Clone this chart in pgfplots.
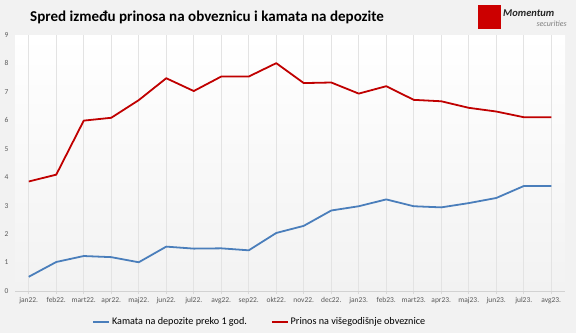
\documentclass[border=0pt]{standalone}
\usepackage{fontspec}
\setmainfont{Carlito}
\usepackage{pgfplots}
\pgfplotsset{compat=1.18}
\definecolor{bgc}{HTML}{F2F2F2}
\definecolor{blueline}{HTML}{4A7EBB}
\definecolor{redline}{HTML}{C00000}
\definecolor{ticktxt}{HTML}{595959}
\begin{document}
\begin{tikzpicture}
\fill[bgc] (0bp,0bp) rectangle (576bp,333bp);
\useasboundingbox (0bp,0bp) rectangle (576bp,333bp);
\begin{axis}[
  at={(15bp,42bp)}, anchor=south west, scale only axis,
  width=550bp, height=256bp,
  xmin=-0.5, xmax=19.5, ymin=0, ymax=9,
  ytick={0,1,...,9},
  xtick={0,...,19},
  xticklabels={jan22.,feb22.,mart22.,apr22.,maj22.,jun22.,jul22.,avg22.,sep22.,okt22.,nov22.,dec22.,jan23.,feb23.,mart23.,apr23.,maj23.,jun23.,jul23.,avg23.},
  tick label style={font=\fontsize{7.5}{8}\selectfont, text=ticktxt},
  /pgf/number format/assume math mode=true,
  axis background/.style={shade, top color=white, bottom color=bgc},
  axis x line*=bottom, axis y line*=left,
  x axis line style={draw=gray!35},
  y axis line style={draw=none},
  xmajorgrids, major grid style={draw=gray!22, line width=0.6pt},
  tick align=outside,
  major tick length=3bp,
  xtick style={draw=gray!30, line width=0.6pt},
  ytick style={draw=none},
  yticklabel style={xshift=0bp},
  xticklabel style={yshift=0bp},
  legend style={at={(0.445,-0.12)}, anchor=center, draw=none, fill=none,
    font=\fontsize{10.2}{12}\selectfont, legend columns=2,
    /tikz/every even column/.append style={column sep=22bp}},
  legend image code/.code={\draw[#1] (0bp,0bp) -- (16bp,0bp);},
  every axis plot/.append style={line width=1.8pt, line join=round},
]
\addplot[blueline] coordinates {
(0,0.50) (1,1.02) (2,1.23) (3,1.19) (4,1.01) (5,1.56) (6,1.49) (7,1.50) (8,1.43) (9,2.04)
(10,2.29) (11,2.83) (12,2.98) (13,3.22) (14,2.98) (15,2.94) (16,3.09) (17,3.27) (18,3.69) (19,3.69)};
\addlegendentry{Kamata na depozite preko 1 god.}
\addplot[redline] coordinates {
(0,3.85) (1,4.09) (2,5.99) (3,6.09) (4,6.71) (5,7.48) (6,7.03) (7,7.54) (8,7.54) (9,8.01)
(10,7.31) (11,7.33) (12,6.94) (13,7.20) (14,6.72) (15,6.67) (16,6.44) (17,6.31) (18,6.11) (19,6.11)};
\addlegendentry{Prinos na višegodišnje obveznice}
\end{axis}
\node[anchor=west, font=\bfseries\fontsize{15.1}{17}\selectfont, inner sep=0pt] at (30bp,316bp) {Spred između prinosa na obveznicu i kamata na depozite};
\fill[red!80!black] (478bp,304bp) rectangle (501bp,328bp);
\node[anchor=west, font=\bfseries\itshape\fontsize{10.5}{11}\selectfont, text=black!85, inner sep=0pt] at (503bp,320bp) {Momentum};
\node[anchor=east, font=\itshape\fontsize{8}{9}\selectfont, text=gray, inner sep=0pt] at (567bp,309bp) {securities};
\end{tikzpicture}
\end{document}
